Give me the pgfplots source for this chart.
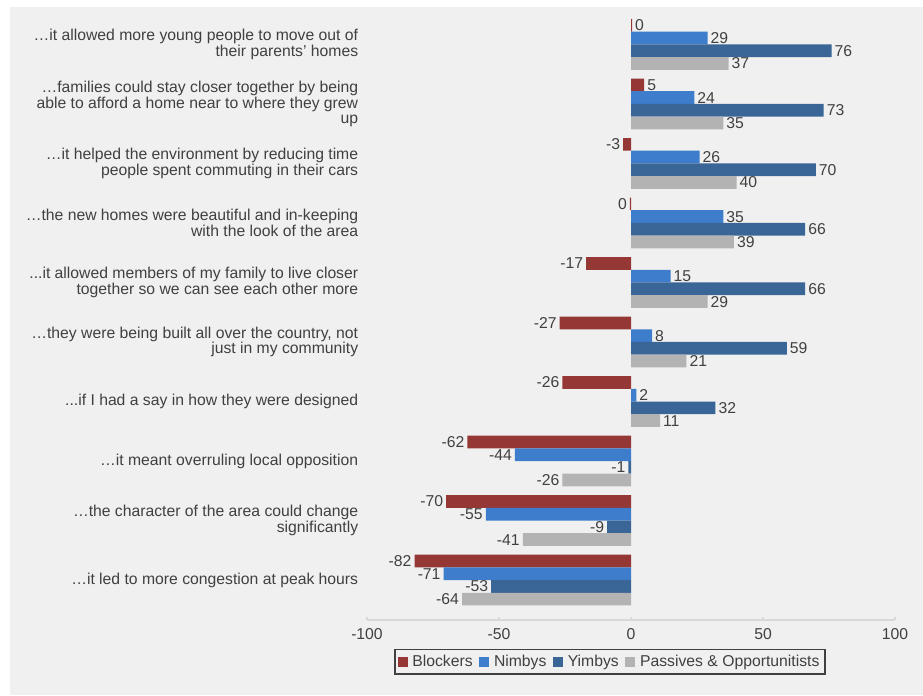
\documentclass[border=0pt]{standalone}
\usepackage{pgfplots}
\pgfplotsset{compat=1.18}
\usepackage{fontspec}
\setmainfont{Liberation Sans}

\definecolor{blockers}{HTML}{953735}
\definecolor{nimbys}{HTML}{3D7DCB}
\definecolor{yimbys}{HTML}{3A6597}
\definecolor{passives}{HTML}{B3B3B3}
\definecolor{bggray}{HTML}{F0F0F0}
\definecolor{textgray}{HTML}{404040}
\definecolor{axisgray}{HTML}{D9D9D9}

% three plain full stops (kept out of the \foreach list parser)
\newcommand{\tdots}{...}

\begin{document}
\fontsize{11.8}{11.6}\selectfont
\begin{tikzpicture}
  % page background (1px = 0.75pt, origin at the axis' lower left corner)
  \fill[white] (-275.25pt,-56.25pt) rectangle (417pt,465pt);
  \fill[bggray] (-267.75pt,-56.25pt) rectangle (417pt,459.75pt);

  \begin{axis}[
    at={(0,0)}, anchor=south west,
    scale only axis,
    width=396pt,
    height=462pt,
    xbar=0pt,
    bar width=0.214,
    y dir=reverse,
    xmin=-100, xmax=100,
    ymin=-0.68, ymax=9.672,
    enlargelimits=false,
    axis x line*=bottom,
    axis y line*=left,
    y axis line style={draw=none},
    x axis line style={draw=axisgray, line width=0.9pt},
    xtick={-100,-50,0,50,100},
    tick align=inside,
    major tick length=2.5pt,
    xtick style={draw=axisgray, line width=0.9pt},
    ytick style={draw=none},
    ytick={0,1,2,3,4,5,6,7,8,9},
    yticklabels={
      {…it allowed more young people to move out of\\their parents’ homes},
      {…families could stay closer together by being\\able to afford a home near to where they grew\\up},
      {…it helped the environment by reducing time\\people spent commuting in their cars},
      {…the new homes were beautiful and in-keeping\\with the look of the area},
      {\tdots it allowed members of my family to live closer\\together so we can see each other more},
      {…they were being built all over the country, not\\just in my community},
      {\tdots if I had a say in how they were designed},
      {…it meant overruling local opposition},
      {…the character of the area could change\\significantly},
      {…it led to more congestion at peak hours}
    },
    yticklabel style={align=right, text=textgray, xshift=-2.5pt},
    xticklabel style={text=textgray, yshift=-2.5pt},
    /pgf/number format/assume math mode=true,
    point meta=explicit symbolic,
    visualization depends on={x \as \rawx},
    nodes near coords={\ifdim\rawx pt<0pt\llap{\pgfplotspointmeta\hspace{2.3pt}}\else\rlap{\hspace{2.3pt}\pgfplotspointmeta}\fi},
    every node near coord/.append style={text=textgray, inner sep=0pt, anchor=center},
    legend columns=-1,
    legend style={
      at={(axis description cs:0.46,-0.0674)}, anchor=center,
      draw=textgray, line width=1.2pt, fill=bggray,
      text=textgray, inner sep=2pt,
      /tikz/every odd column/.append style={column sep=1.5pt},
      /tikz/every even column/.append style={column sep=3pt},
    },
    legend image code/.code={\fill[#1] (0pt,-3.75pt) rectangle (7.5pt,3.75pt);},
  ]
  \addplot[draw=none, fill=blockers] coordinates {
    (0.4,0) [0] (5,1) [5] (-3,2) [-3] (-0.4,3) [0] (-17,4) [-17]
    (-27,5) [-27] (-26,6) [-26] (-62,7) [-62] (-70,8) [-70] (-82,9) [-82]
  };
  \addplot[draw=none, fill=nimbys] coordinates {
    (29,0) [29] (24,1) [24] (26,2) [26] (35,3) [35] (15,4) [15]
    (8,5) [8] (2,6) [2] (-44,7) [-44] (-55,8) [-55] (-71,9) [-71]
  };
  \addplot[draw=none, fill=yimbys] coordinates {
    (76,0) [76] (73,1) [73] (70,2) [70] (66,3) [66] (66,4) [66]
    (59,5) [59] (32,6) [32] (-1,7) [-1] (-9,8) [-9] (-53,9) [-53]
  };
  \addplot[draw=none, fill=passives] coordinates {
    (37,0) [37] (35,1) [35] (40,2) [40] (39,3) [39] (29,4) [29]
    (21,5) [21] (11,6) [11] (-26,7) [-26] (-41,8) [-41] (-64,9) [-64]
  };
  \legend{Blockers, Nimbys, Yimbys, Passives \& Opportunitists}
  \end{axis}

  \pgfresetboundingbox
  \path[use as bounding box] (-275.25pt,-56.25pt) rectangle (417pt,465pt);
\end{tikzpicture}
\end{document}
